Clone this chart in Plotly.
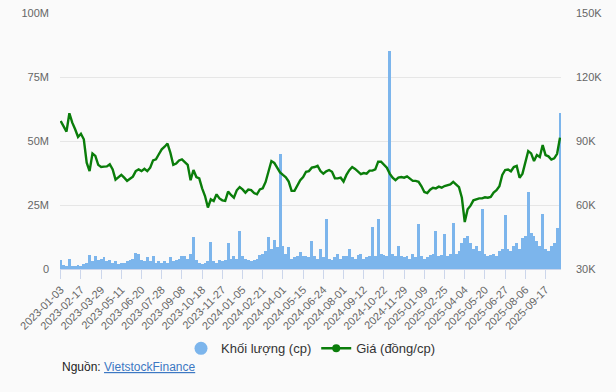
import plotly.graph_objects as go

# Tick labels (every 28 trading days) on the category axis
tick_labels = [
    "2023-01-03", "2023-02-17", "2023-03-29", "2023-05-11", "2023-06-20",
    "2023-07-28", "2023-09-08", "2023-10-18", "2023-11-27", "2024-01-05",
    "2024-02-21", "2024-04-01", "2024-05-15", "2024-06-24", "2024-08-01",
    "2024-09-12", "2024-10-22", "2024-11-29", "2025-01-09", "2025-02-25",
    "2025-04-04", "2025-05-20", "2025-06-27", "2025-08-06", "2025-09-17",
]
points_per_tick = 7  # one sample every 4 trading sessions

# Price (thousand dong / share), one reading every 4 sessions
price_k = [
    99.4, 96.6, 94.4, 103.0, 98.6, 95.5, 91.9, 93.4,
    90.8, 79.8, 75.9, 84.1, 83.0, 78.8, 77.8,
    78.0, 78.1, 79.1, 76.7, 71.9, 73.1, 74.1,
    72.8, 71.3, 72.3, 73.3, 75.9, 76.7, 75.9,
    77.0, 75.9, 77.5, 80.9, 81.4, 83.8, 86.1,
    87.3, 88.8, 84.5, 78.8, 79.4, 80.9, 81.4,
    80.0, 78.8, 71.6, 76.4, 73.1, 72.5, 67.8,
    64.2, 58.8, 62.7, 61.9, 65.0, 63.1, 62.2,
    61.9, 66.3, 64.7, 63.4, 66.9, 68.4, 67.3,
    65.8, 67.2, 67.0, 65.6, 65.0, 67.3, 67.8,
    70.8, 75.6, 80.6, 79.7, 77.2, 75.3, 74.1,
    73.0, 71.0, 66.6, 66.6, 69.4, 71.6, 73.1,
    75.6, 75.9, 77.5, 77.8, 78.4, 75.9, 74.7,
    75.8, 76.4, 75.6, 72.5, 72.5, 72.8, 71.0,
    74.1, 76.3, 77.8, 76.9, 75.9, 74.5, 75.0,
    74.7, 76.1, 76.1, 76.7, 80.3, 80.3, 78.9,
    77.5, 74.7, 72.8, 71.6, 72.8, 73.1, 72.8,
    73.4, 72.3, 71.3, 71.3, 70.9, 68.8, 66.1,
    65.6, 67.2, 68.1, 67.8, 68.6, 68.1, 68.9,
    69.4, 69.7, 70.9, 69.7, 68.4, 63.4, 52.0,
    58.0, 59.7, 62.2, 62.7, 63.1, 63.1, 63.6,
    63.4, 63.8, 65.8, 66.9, 68.8, 74.1, 76.4,
    76.6, 75.8, 77.8, 78.3, 72.8, 74.7, 80.6,
    85.3, 84.2, 80.6, 83.4, 82.5, 88.1, 83.4,
    82.8, 81.3, 81.9, 84.0, 91.6,
]

# Volume (million shares), one reading every 4 sessions
volume_m = [
    3.5, 1.5, 1.2, 3.8, 1.2, 1.0, 1.5, 1.2,
    2.0, 2.5, 5.5, 3.0, 5.0, 3.5, 4.0,
    4.5, 3.0, 3.5, 2.5, 3.0, 2.0, 2.5,
    2.5, 3.0, 3.5, 4.0, 6.2, 6.0, 3.5,
    3.0, 4.5, 3.0, 5.0, 2.5, 3.0, 2.5,
    3.0, 2.5, 4.5, 3.0, 3.5, 4.0, 5.0,
    5.0, 4.0, 6.0, 12.5, 3.5, 2.5, 2.0,
    2.5, 3.0, 10.5, 3.0, 2.5, 3.5, 3.0,
    3.5, 10.0, 4.0, 5.0, 4.0, 15.0, 5.0,
    4.0, 3.5, 3.0, 3.5, 4.0, 5.5, 6.0,
    7.0, 12.5, 8.0, 11.5, 8.5, 45.0, 9.0,
    6.0, 8.5, 4.0, 4.5, 5.0, 6.5, 5.0,
    5.0, 4.5, 11.0, 5.0, 4.0, 8.0, 4.5,
    19.5, 4.0, 3.5, 4.5, 6.0, 4.0, 5.0,
    5.0, 8.0, 4.5, 4.0, 5.5, 6.0, 4.0,
    4.5, 5.0, 16.5, 5.0, 19.5, 6.0, 5.5,
    5.0, 85.0, 6.0, 5.0, 9.0, 5.0, 4.5,
    5.0, 4.0, 6.0, 4.5, 17.5, 5.0, 4.0,
    4.5, 5.5, 6.0, 15.0, 5.0, 5.5, 13.5,
    5.0, 6.0, 18.0, 6.0, 7.0, 10.0, 12.0,
    13.0, 10.0, 8.0, 9.0, 7.0, 23.5, 6.0,
    5.0, 5.5, 6.0, 5.0, 7.0, 8.0, 21.0,
    8.0, 7.0, 9.0, 10.0, 8.0, 12.0, 13.0,
    30.0, 14.0, 13.0, 11.0, 9.0, 21.5, 8.0,
    7.0, 9.0, 10.0, 16.0, 61.0,
]

vol_ticks = [0, 25, 50, 75, 100]
vol_tick_text = ["0", "25M", "50M", "75M", "100M"]
price_ticks = [30, 60, 90, 120, 150]
price_tick_text = ["30K", "60K", "90K", "120K", "150K"]

x = list(range(len(price_k)))
tickvals = [i * points_per_tick for i in range(len(tick_labels))]

BLUE = "#7cb5ec"
GREEN = "#0a7d0a"
FONT = "Arial, Liberation Sans, sans-serif"

fig = go.Figure()
fig.add_trace(go.Bar(
    x=x, y=volume_m, marker=dict(color=BLUE, line=dict(width=0)),
    yaxis="y", showlegend=False, hoverinfo="skip",
))
fig.add_trace(go.Scatter(
    x=x, y=price_k, mode="lines", line=dict(color=GREEN, width=2.4),
    yaxis="y2", showlegend=False, hoverinfo="skip",
))
# legend entries
fig.add_trace(go.Scatter(
    x=[None], y=[None], mode="markers", name="Khối lượng (cp)",
    marker=dict(color=BLUE, size=13, symbol="circle"),
))
fig.add_trace(go.Scatter(
    x=[None], y=[None], mode="lines+markers", name="Giá (đồng/cp)",
    line=dict(color=GREEN, width=2.4), marker=dict(color=GREEN, size=8),
    yaxis="y2",
))

fig.update_layout(
    width=616, height=392,
    margin=dict(l=60, r=55, t=13, b=123, autoexpand=False),
    paper_bgcolor="#fafafa", plot_bgcolor="#fafafa",
    font=dict(family=FONT, size=11, color="#666666"),
    bargap=0,
    xaxis=dict(
        range=[-0.25, 173.35], tickvals=tickvals, ticktext=tick_labels,
        tickangle=-45, ticks="outside", ticklen=9, tickcolor="#ccd6eb",
        showline=True, linecolor="#ccd6eb", showgrid=False, zeroline=False,
        tickfont=dict(size=11, color="#666666"), automargin=False,
    ),
    yaxis=dict(
        range=[0, 100], tickvals=vol_ticks, ticktext=vol_tick_text,
        gridcolor="#e6e6e6", gridwidth=1, zeroline=False, showline=False,
        ticks="", ticklabelstandoff=10, automargin=False,
        tickfont=dict(size=11, color="#666666"),
    ),
    yaxis2=dict(
        range=[30, 150], tickvals=price_ticks, ticktext=price_tick_text,
        overlaying="y", side="right", showgrid=False, zeroline=False,
        showline=False, ticks="", ticklabelstandoff=14, automargin=False,
        tickfont=dict(size=11, color="#666666"),
    ),
    legend=dict(
        orientation="h", x=0.5, xanchor="center", y=-0.31, yanchor="middle",
        font=dict(size=13, color="#333333", family=FONT),
        bgcolor="rgba(0,0,0,0)",
    ),
    annotations=[dict(
        xref="paper", yref="paper", x=0, y=-0.383, xanchor="left", yanchor="middle",
        showarrow=False,
        text="Nguồn: <a href='https://finance.vietstock.vn'><span style='color:#3c78c3;text-decoration:underline'>VietstockFinance</span></a>",
        font=dict(size=12, color="#222222", family=FONT),
    )],
)

fig.write_html(
    "out.html",
    config={"displayModeBar": False},
    post_script="document.body.style.margin='0';document.body.style.background='#fafafa';",
)
